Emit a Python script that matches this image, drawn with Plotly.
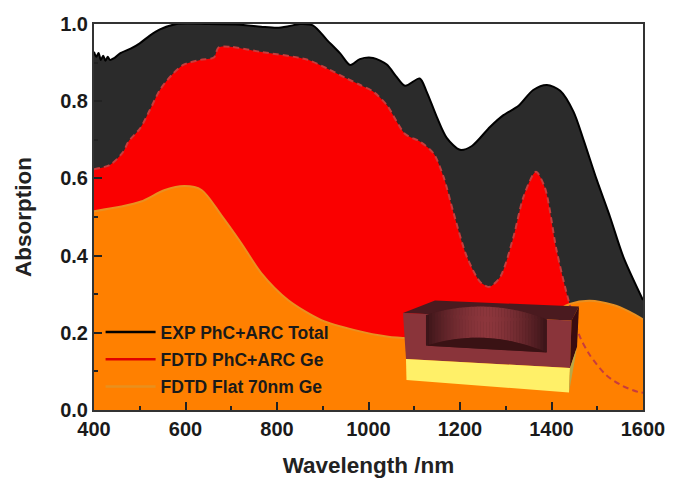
import plotly.graph_objects as go

exp_x = [400,405,410,415,420,425,430,435,445,457,480,500,522,544,581,650,720,765,800,825,850,879,909,938,960,981,1010,1040,1060,1080,1112,1127,1149,1171,1200,1226,1266,1295,1328,1360,1390,1419,1448,1470,1499,1528,1557,1600]
exp_y = [.928,.915,.925,.907,.918,.905,.915,.907,.912,.924,.936,.95,.97,.986,1.0,1.0,.998,.993,.99,.994,1.0,.996,.959,.924,.894,.909,.912,.895,.865,.84,.859,.825,.76,.705,.674,.684,.734,.764,.788,.829,.842,.827,.773,.70,.596,.50,.397,.285]

red_x = [400,435,464,475,501,522,544,570,595,632,662,672,697,763,865,909,952,982,1010,1040,1080,1113,1142,1164,1186,1215,1244,1264,1288,1317,1339,1366,1386,1411,1437,1462,1484,1520,1556,1589,1600]
red_y = [.624,.635,.669,.695,.73,.777,.829,.868,.894,.907,.913,.939,.941,.928,.908,.885,.859,.842,.825,.79,.715,.695,.665,.604,.51,.397,.332,.319,.345,.449,.553,.617,.574,.414,.285,.19,.142,.09,.062,.047,.045]

flat_x = [400,460,503,555,598,635,678,722,766,824,897,970,1043,1100,1200,1300,1400,1440,1484,1535,1570,1600]
flat_y = [.515,.527,.54,.57,.58,.57,.505,.432,.354,.285,.233,.207,.19,.185,.18,.20,.25,.275,.283,.272,.255,.235]

names = ["EXP PhC+ARC Total", "FDTD PhC+ARC Ge", "FDTD Flat 70nm Ge"]
legend_colors = ["#000000", "#e00000", "#e8901e"]

FONT = "Liberation Sans, Arial, sans-serif"
OFF = 8  # the page body adds this margin on the left and top
W, H = 680 - OFF, 478 - OFF
L, R, T, B = 94, 643, 24, 410

fig = go.Figure()
sm = 0.8
fig.add_trace(go.Scatter(x=exp_x, y=exp_y, mode="lines", fill="tozeroy", fillcolor="#2b2b2b",
                         line=dict(color="#000000", width=2, shape="spline", smoothing=sm), showlegend=False))
fig.add_trace(go.Scatter(x=red_x, y=red_y, mode="lines", fill="tozeroy", fillcolor="#fa0000",
                         line=dict(color="rgba(0,0,0,0)", width=0, shape="spline", smoothing=sm), showlegend=False))
fig.add_trace(go.Scatter(x=flat_x, y=flat_y, mode="lines", fill="tozeroy", fillcolor="#ff8000",
                         line=dict(color="#ea9020", width=2, shape="spline", smoothing=sm), showlegend=False))
fig.add_trace(go.Scatter(x=red_x, y=red_y, mode="lines",
                         line=dict(color="#c83c3c", width=2, dash="6px,4px", shape="spline", smoothing=sm), showlegend=False))
for i, n in enumerate(names):
    fig.add_trace(go.Scatter(x=[None], y=[None], mode="lines", name=n, legendgroup=n,
                             line=dict(color=legend_colors[i], width=2.5)))


def px(x):
    return (x - L) / (R - L)


def py(y):
    return (B - y) / (B - T)


def poly(pts, color):
    d = "M " + " L ".join(f"{px(a):.4f},{py(b):.4f}" for a, b in pts) + " Z"
    return dict(type="path", xref="paper", yref="paper", path=d, fillcolor=color,
                line=dict(width=0), layer="above")


shapes = [
    poly([(403, 313), (435, 300.5), (579, 306.5), (571.5, 320.5)], "#4a1a1f"),
    poly([(403, 313), (571.5, 320.5), (570, 368), (406, 359)], "#8a343a"),
    poly([(579, 306.5), (577, 347), (570, 368), (571.5, 320.5)], "#3a0c10"),
    poly([(406, 359), (570, 368), (569, 392.5), (406.5, 380)], "#fff068"),
    poly([(570, 368), (577, 347), (569, 392.5)], "#b8a848"),
]

# cylindrical recess, drawn as narrow shaded strips
X0, X1 = 426.0, 546.5
N = 40


def top_edge(x):
    t = (x - X0) / (X1 - X0)
    return 315 + 4.3 * t - 21 * 4 * t * (1 - t) * 0.5


def floor_edge(x):
    t = (x - X0) / (X1 - X0)
    return 345.7 + 6.6 * t - 22 * 4 * t * (1 - t) * 0.5


def shade(t):
    k = 1 - abs(2 * t - 1) ** 1.6
    a, b = (58, 20, 24), (140, 54, 60)
    return "rgb(%d,%d,%d)" % tuple(round(a[i] + (b[i] - a[i]) * k) for i in range(3))


shapes.append(poly([(X0, 315), (X0 + 1.5, 345.7), (X1 - .5, 352.3), (X1, 319.3), (X0 + 60, 322)], "#4a1a1f"))
for i in range(N):
    x0 = X0 + (X1 - X0) * i / N
    x1 = X0 + (X1 - X0) * (i + 1) / N + 0.4
    shapes.append(poly([(x0, top_edge(x0)), (x1, top_edge(x1)), (x1, floor_edge(x1)), (x0, floor_edge(x0))],
                       shade((i + 0.5) / N)))
fl = [(X0 + (X1 - X0) * i / N, floor_edge(X0 + (X1 - X0) * i / N)) for i in range(N + 1)]
shapes.append(poly(fl + [(X1, 352.5), (427.5, 345.8)], "#3a1214"))

axis_font = dict(family=FONT, size=20, color="#1a1a1a", weight="bold")
title_font = dict(family=FONT, size=22.5, color="#222222", weight="bold")
common = dict(showgrid=False, zeroline=False, showline=True, mirror=True, linecolor="#333333", linewidth=2,
              ticks="inside", ticklen=8, tickwidth=1.5, tickcolor="#222222", tickfont=axis_font)

fig.update_layout(
    width=W, height=H, paper_bgcolor="white", plot_bgcolor="white",
    margin=dict(l=L - OFF, r=W - (R - OFF), t=T - OFF, b=H - (B - OFF), autoexpand=False),
    xaxis=dict(range=[400, 1600], tickvals=[400, 600, 800, 1000, 1200, 1400, 1600],
               minor=dict(tickvals=[500, 700, 900, 1100, 1300, 1500], ticks="inside", ticklen=4, tickwidth=1.5, tickcolor="#222222"),
               title=dict(text="Wavelength /nm", font=title_font, standoff=18), **common),
    yaxis=dict(range=[0, 1], tickvals=[0, .2, .4, .6, .8, 1], tickformat=".1f",
               minor=dict(tickvals=[.1, .3, .5, .7, .9], ticks="inside", ticklen=4, tickwidth=1.5, tickcolor="#222222"),
               title=dict(text="Absorption", font=title_font, standoff=22), **common),
    legend=dict(x=0.012, y=py(314), xanchor="left", yanchor="top", bgcolor="rgba(0,0,0,0)", borderwidth=0,
                itemwidth=50, tracegroupgap=1.5, traceorder="grouped",
                font=dict(family=FONT, size=17.5, color="#1a1a1a", weight="bold")),
    shapes=shapes,
)
fig.write_html("out.html")
